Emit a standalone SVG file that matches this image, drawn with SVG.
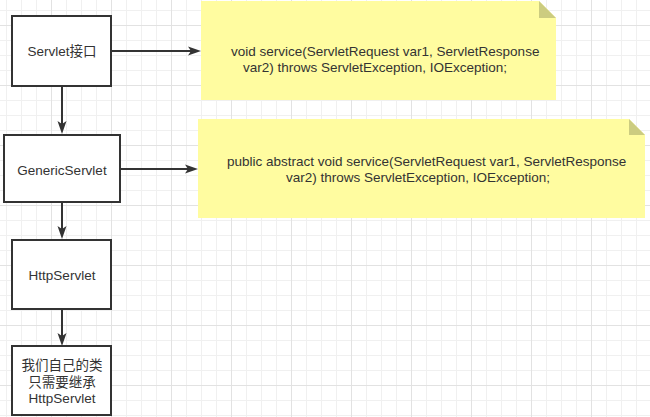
<svg xmlns="http://www.w3.org/2000/svg" width="650" height="417" viewBox="0 0 650 417">
<style>
.box{fill:#ffffff;stroke:#333333;stroke-width:2}
.lbl{font-family:"Liberation Sans","Noto Sans CJK SC",Arial,sans-serif;font-size:13.5px;fill:#333333}
.note{fill:#fffca0}
.fold{fill:#cccc80}
.conn{stroke:#333333;stroke-width:2;fill:none;marker-end:url(#arr)}
</style>
<defs>
<pattern id="minor" width="15" height="15" x="6" y="10" patternUnits="userSpaceOnUse">
<path d="M0 0.5H15M0.5 0V15" stroke="#f0f0f0" stroke-width="1" fill="none"/>
</pattern>
<pattern id="major" width="60" height="60" x="51" y="25" patternUnits="userSpaceOnUse">
<path d="M0 0.5H60M0.5 0V60" stroke="#e2e2e2" stroke-width="1" fill="none"/>
</pattern>
<marker id="arr" markerWidth="14" markerHeight="10" refX="7" refY="5" orient="auto" markerUnits="userSpaceOnUse">
<path d="M0,0.5 L13,5 L0,9.5 L3,5 Z" fill="#333333"/>
</marker>
</defs>
<rect width="650" height="417" fill="#ffffff"/>
<rect width="650" height="417" fill="url(#minor)"/>
<rect width="650" height="417" fill="url(#major)"/>

<g id="connectors">
<path class="conn" d="M112,51 H195"/>
<path class="conn" d="M62,86 V128"/>
<path class="conn" d="M121,169 H192"/>
<path class="conn" d="M62,202 V233"/>
<path class="conn" d="M62,310 V340"/>
</g>

<g id="servlet">
<rect class="box" x="12" y="16" width="99" height="70"/>
<text class="lbl" x="62" y="56" text-anchor="middle">Servlet接口</text>
</g>

<g id="generic-servlet">
<rect class="box" x="4" y="135" width="116" height="67"/>
<text class="lbl" x="62" y="174.5" text-anchor="middle">GenericServlet</text>
</g>

<g id="http-servlet">
<rect class="box" x="12" y="240" width="99" height="69"/>
<text class="lbl" x="62" y="280" text-anchor="middle">HttpServlet</text>
</g>

<g id="own-class">
<rect class="box" x="12" y="346" width="99" height="69"/>
<text class="lbl" x="62" y="370" text-anchor="middle">我们自己的类</text>
<text class="lbl" x="62" y="386.5" text-anchor="middle">只需要继承</text>
<text class="lbl" x="62" y="403" text-anchor="middle">HttpServlet</text>
</g>

<g id="note-servlet">
<path class="note" d="M201,1 H539 L556,18 V100 H201 Z"/>
<path class="fold" d="M539,1 V18 H556 Z"/>
<text class="lbl" x="231" y="55.5">void service(ServletRequest var1, ServletResponse</text>
<text class="lbl" x="243" y="71.5">var2) throws ServletException, IOException;</text>
</g>

<g id="note-generic">
<path class="note" d="M198,119 H629 L645,135 V218 H198 Z"/>
<path class="fold" d="M629,119 V135 H645 Z"/>
<text class="lbl" x="227" y="165.5">public abstract void service(ServletRequest var1, ServletResponse</text>
<text class="lbl" x="286" y="181.5">var2) throws ServletException, IOException;</text>
</g>
</svg>
